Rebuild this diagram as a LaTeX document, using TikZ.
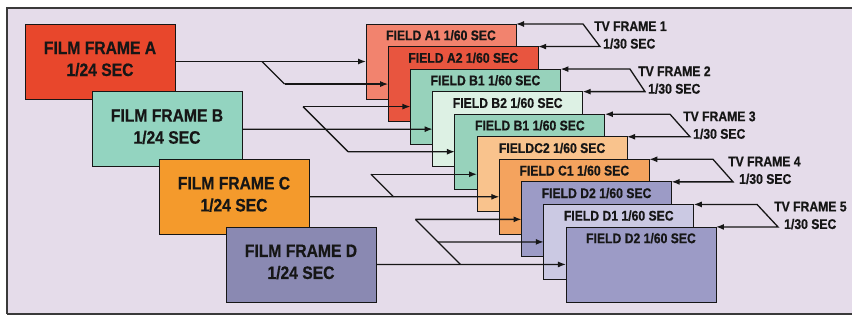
\documentclass[tikz,border=0pt]{standalone}
\usepackage{fontspec}
\newfontfamily\cond{Liberation Sans}[FakeStretch=0.87,FakeBold=0.6]
\usetikzlibrary{arrows.meta,calc}
\definecolor{bg}{HTML}{E5DCEA}
\definecolor{frameline}{HTML}{3A3A3A}
\definecolor{filmA}{HTML}{E8472C}
\definecolor{filmB}{HTML}{93D4C0}
\definecolor{filmC}{HTML}{F49A2C}
\definecolor{filmD}{HTML}{8A89B2}
\definecolor{cA1}{HTML}{F2836E}
\definecolor{cA2}{HTML}{E8553F}
\definecolor{cB1}{HTML}{97D2BB}
\definecolor{cB2}{HTML}{DDF1E4}
\definecolor{cC2}{HTML}{F9C38D}
\definecolor{cC1}{HTML}{F4A35E}
\definecolor{cD2}{HTML}{9C9BC6}
\definecolor{cD1}{HTML}{CBC9E3}
\definecolor{ink}{HTML}{161616}
\tikzset{
  film/.style={draw=ink, line width=0.9pt, minimum width=150pt, minimum height=75pt,
    inner sep=0pt, outer sep=0pt, anchor=north west},
  filmtxt/.style={align=center, inner sep=0pt, text=ink,
    font=\cond\bfseries\fontsize{18}{22}\selectfont},
  field/.style={draw=ink, line width=0.9pt, minimum width=150pt, minimum height=75pt,
    inner sep=0pt, outer sep=0pt, anchor=north west},
  fldlbl/.style={anchor=north, inner sep=0pt, text=ink, text height=10pt, text depth=0pt,
    font=\cond\bfseries\fontsize{14}{16}\selectfont},
  tvtxt/.style={anchor=west, inner sep=0pt, text=ink, text height=10pt, text depth=0pt,
    font=\cond\bfseries\fontsize{14}{16}\selectfont},
  ln/.style={line width=1.3pt, draw=ink},
  arr/.style={ln, -{Latex[length=8pt,width=6pt]}},
  dbl/.style={ln, {Latex[length=8pt,width=6pt]}-{Latex[length=8pt,width=6pt]}}
}
\begin{document}
\begin{tikzpicture}[x=1pt,y=-1pt]
\useasboundingbox (0,0) rectangle (852,321);
% background panel
\fill[bg] (7,8) rectangle (852,314);
\draw[frameline, line width=1.2pt] (852,8) -- (7,8) -- (7,314);
\draw[frameline, line width=1.8pt] (7,314) -- (852,314);

% film frames
\node[film, fill=filmA] (fA) at (25,24) {};
\node[filmtxt] (tA) at ($(fA.center)+(0,-2.5)$) {FILM FRAME A\\1/24 SEC};
\node[film, fill=filmB] (fB) at (92,91.65) {};
\node[filmtxt] (tB) at ($(fB.center)+(0,-2.5)$) {FILM FRAME B\\1/24 SEC};
\node[film, fill=filmC] (fC) at (159,159.3) {};
\node[filmtxt] (tC) at ($(fC.center)+(0,-2.5)$) {FILM FRAME C\\1/24 SEC};
\node[film, fill=filmD] (fD) at (226,226.95) {};
\node[filmtxt] (tD) at ($(fD.center)+(0,-2.5)$) {FILM FRAME D\\1/24 SEC};

% fields
\foreach \i/\c/\t in {1/cA1/{FIELD A1 1/60 SEC},2/cA2/{FIELD A2 1/60 SEC},
  3/cB1/{FIELD B1 1/60 SEC},4/cB2/{FIELD B2 1/60 SEC},5/cB1/{FIELD B1 1/60 SEC},
  6/cC2/{FIELDC2 1/60 SEC},7/cC1/{FIELD C1 1/60 SEC},8/cD2/{FIELD D2 1/60 SEC},
  9/cD1/{FIELD D1 1/60 SEC},10/cD2/{FIELD D2 1/60 SEC}}{
  \pgfmathsetmacro\xx{366+22.22*(\i-1)}
  \pgfmathsetmacro\yy{24+22.55*(\i-1)}
  \node[field, fill=\c] (f\i) at (\xx,\yy) {};
  \node[fldlbl] (l\i) at ($(f\i.north)+(0,6)$) {\t};
}

% film -> field connectors
\draw[arr] (fA.east) -- (f1.west);
\coordinate (a1) at (262,61.5);
\coordinate (a2) at (284.55,84.05);
\draw[ln] (a1) -- (a2);
\draw[arr] (a2) -- (f2.west);

\draw[arr] (fB.east) -- (f4.west);
\coordinate (b1) at (303,106.6);
\coordinate (b2) at (348.1,151.7);
\draw[arr] (b1) -- (f3.west);
\draw[ln] (b1) -- (b2);
\draw[arr] (b2) -- (f5.west);

\draw[arr] (fC.east) -- (f7.west);
\coordinate (c1) at (393.5,196.8);
\coordinate (c2) at (370.95,174.25);
\draw[ln] (c1) -- (c2);
\draw[arr] (c2) -- (f6.west);

\draw[arr] (fD.east) -- (f10.west);
\coordinate (d1) at (460.5,264.45);
\coordinate (d2) at (415.4,219.35);
\coordinate (d3) at ($(d1)!0.5!(d2)$);
\draw[ln] (d1) -- (d2);
\draw[arr] (d2) -- (f8.west);
\draw[arr] (d3) -- (f9.west);

% TV frame brackets
\coordinate (s1) at (583,24);     \coordinate (e1) at (600,46.55);
\coordinate (s2) at (630,69.1);   \coordinate (e2) at (645,91.65);
\coordinate (s3) at (670,114.2);  \coordinate (e3) at (690,136.75);
\coordinate (s4) at (713,159.3);  \coordinate (e4) at (733,181.85);
\coordinate (s5) at (757,204.4);  \coordinate (e5) at (778,226.95);
\draw[dbl] (f1.north east) -- (s1) -- (e1) -- (f2.north east);
\draw[dbl] (f3.north east) -- (s2) -- (e2) -- (f4.north east);
\draw[dbl] (f5.north east) -- (s3) -- (e3) -- (f6.north east);
\draw[dbl] (f7.north east) -- (s4) -- (e4) -- (f8.north east);
\draw[dbl] (f9.north east) -- (s5) -- (e5) -- (f10.north east);

\node[tvtxt] (tv1) at (594,26) {TV FRAME 1};
\node[tvtxt] (ts1) at (603,43.55) {1/30 SEC};
\node[tvtxt] (tv2) at (638,71.1) {TV FRAME 2};
\node[tvtxt] (ts2) at (648,88.65) {1/30 SEC};
\node[tvtxt] (tv3) at (683,116.2) {TV FRAME 3};
\node[tvtxt] (ts3) at (693,133.75) {1/30 SEC};
\node[tvtxt] (tv4) at (728,161.3) {TV FRAME 4};
\node[tvtxt] (ts4) at (739,178.85) {1/30 SEC};
\node[tvtxt] (tv5) at (774,206.4) {TV FRAME 5};
\node[tvtxt] (ts5) at (784,223.95) {1/30 SEC};
\end{tikzpicture}
\end{document}
